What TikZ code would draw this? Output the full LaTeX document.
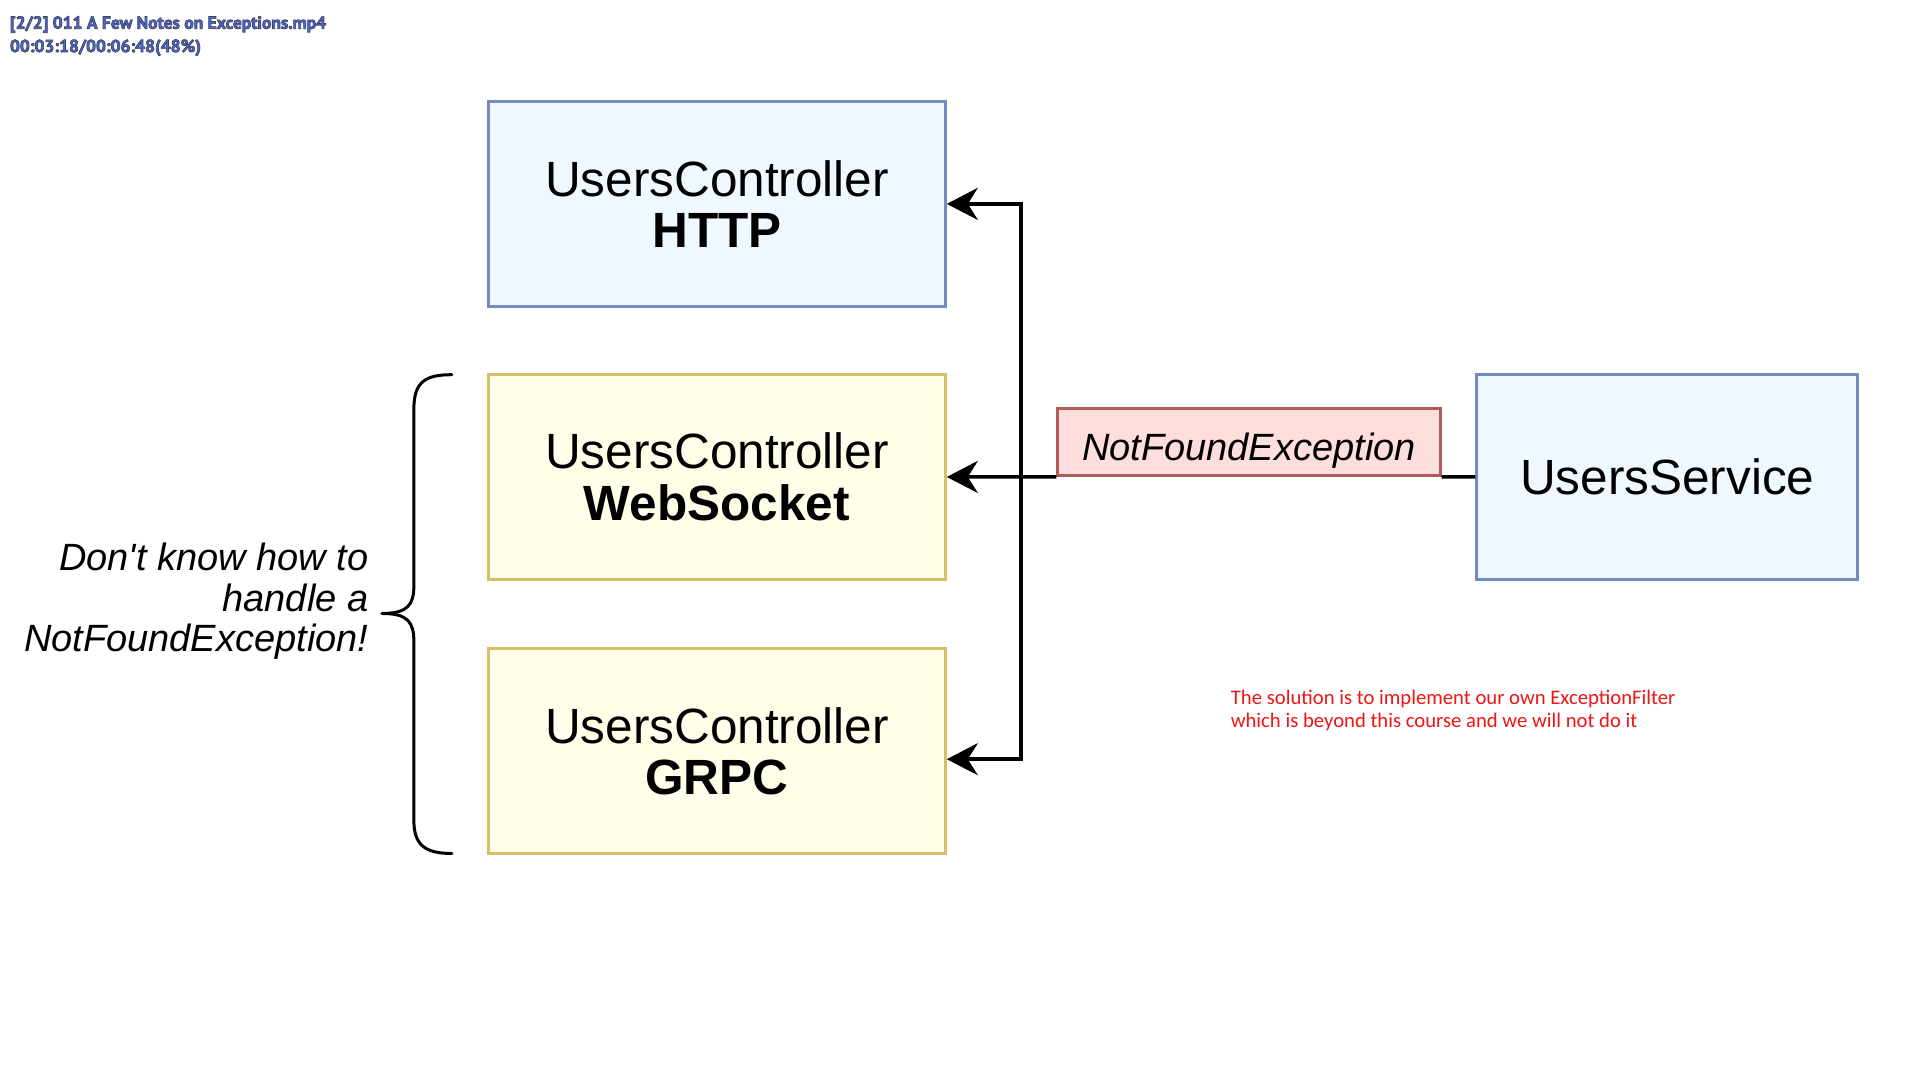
\documentclass[tikz,border=0pt]{standalone}
\usepackage{fontspec}
\setmainfont{Liberation Sans}[Ligatures=TeXOff]
\newfontfamily\calibfont{Carlito}
\newfontfamily\ptfont{PT Sans}
\usetikzlibrary{arrows.meta}
\definecolor{bluefill}{RGB}{239,248,255}
\definecolor{blueline}{RGB}{112,140,192}
\definecolor{yelfill}{RGB}{255,254,232}
\definecolor{yelline}{RGB}{216,190,104}
\definecolor{redfill}{RGB}{253,222,220}
\definecolor{redline}{RGB}{176,92,88}
\definecolor{ovblue}{RGB}{72,104,218}
\definecolor{notered}{RGB}{240,20,20}
\begin{document}
\begin{tikzpicture}[x=1.22449pt,y=-1.22449pt,
  box/.style={draw, line width=3pt, minimum width=456.7pt, minimum height=204.5pt,
    align=center, inner sep=0pt, font=\fontsize{49.5}{51.5}\selectfont},
  bluebox/.style={box, fill=bluefill, draw=blueline},
  yelbox/.style={box, fill=yelfill, draw=yelline},
  excbox/.style={draw=redline, fill=redfill, line width=3pt, minimum width=382pt,
    minimum height=67.3pt, inner sep=0pt, text height=37.5pt, text depth=0pt,
    font=\fontsize{38}{42}\selectfont\itshape},
  conn/.style={line width=3.5pt},
  arr/.style={conn, -{Stealth[length=31pt,width=32pt,inset=10pt]}},
  bracestyle/.style={line width=3pt, line cap=round},
  overlay/.style={font=\ptfont\bfseries\fontsize{17.5}{20}\selectfont, text=ovblue, inner sep=0pt, anchor=west}
]
\useasboundingbox[fill=white] (0,0) rectangle (1568,882);

% overlay captions
\node[overlay] (cap1) at (8,20) {\special{pdf:code 2 Tr 0.65 w 0.25 0.25 0.32 RG}[2/2] 011 A Few Notes on Exceptions.mp4};
\node[overlay] (cap2) at (8,39) {\special{pdf:code 2 Tr 0.65 w 0.25 0.25 0.32 RG}00:03:18/00:06:48(48\%)};

% boxes
\node[bluebox] (http) at (585.5,166.5) {UsersController\\\textbf{HTTP}};
\node[yelbox] (ws) at (585.5,389.5) {UsersController\\\textbf{WebSocket}};
\node[yelbox] (grpc) at (585.5,613.5) {UsersController\\\textbf{GRPC}};
\node[excbox] (nfe) at (1020,360.8) {NotFoundException};
\node[bluebox, minimum width=380.8pt] (svc) at (1361.5,389.5) {UsersService};

% connectors
\coordinate (jt) at (834,166.5);
\coordinate (jb) at (834,620);
\draw[conn] (svc.west) -- (nfe.south east);
\draw[arr] (nfe.south west) -- (ws.east);
\draw[conn, line cap=rect] (jt) -- (jb);
\draw[arr] (jt) -- (http.east);
\draw[arr] (jb) -- (grpc.east |- jb);

% brace
\draw[bracestyle] (369,306) .. controls (347,306) and (338,312) .. (338,334) -- (338,478)
  .. controls (338,494) and (333,501) .. (312,501);
\draw[bracestyle] (312,501) .. controls (333,501) and (338,508) .. (338,524) -- (338,670)
  .. controls (338,690) and (347,697) .. (369,697);

% side note
\node[anchor=east, align=right, inner sep=0pt, font=\fontsize{38}{40.5}\selectfont\itshape] (note) at (301,491)
  {Don't know how to\\handle a\\NotFoundException!};

% red remark
\node[anchor=west, align=left, inner sep=0pt, text=notered, font=\calibfont\fontsize{20.7}{23.3}\selectfont] (remark) at (1005,580)
  {The solution is to implement our own ExceptionFilter\\which is beyond this course and we will not do it};
\end{tikzpicture}
\end{document}
